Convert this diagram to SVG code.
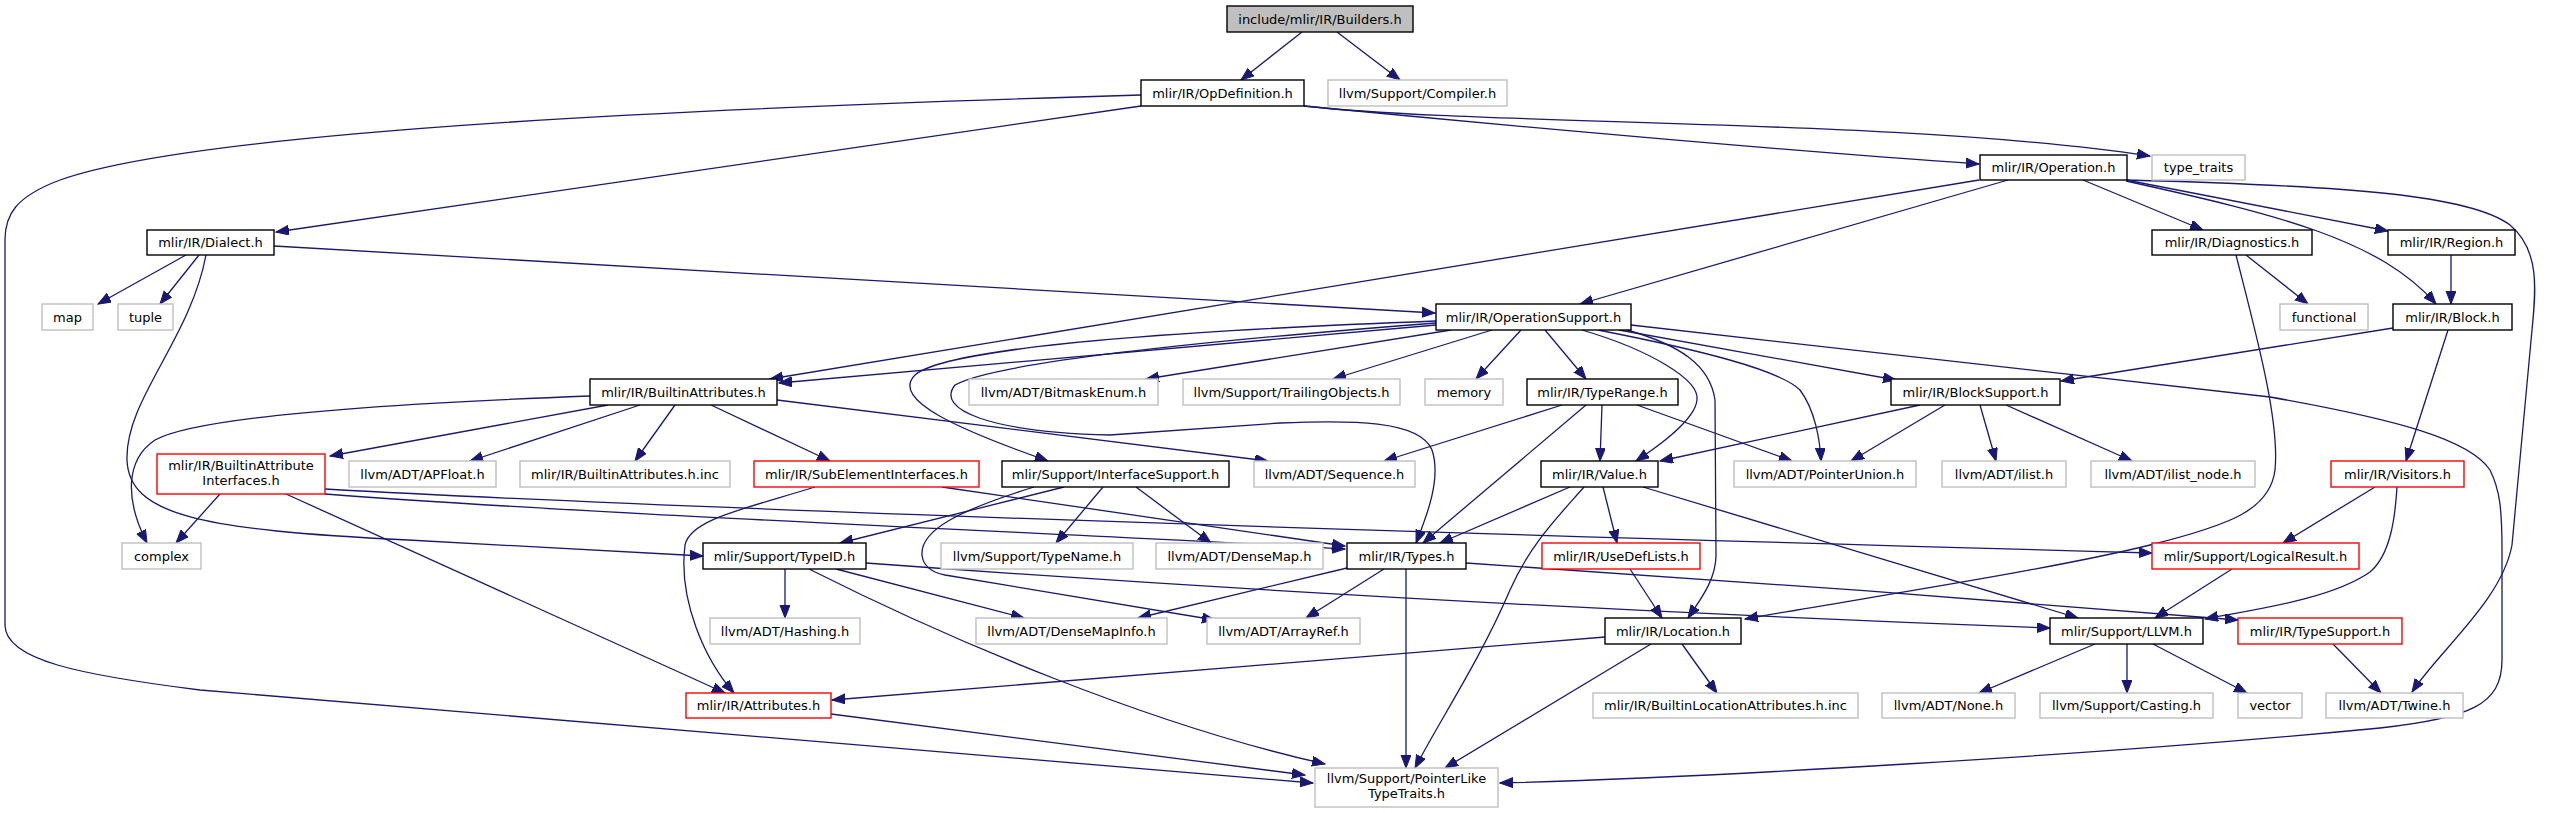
<svg xmlns="http://www.w3.org/2000/svg" width="2551" height="813" viewBox="0 0 2551 813">
<style>
rect{fill:#fff;stroke:#000;stroke-width:1.4}
.g rect{stroke:#bfbfbf}
.r rect{stroke:#ff0000}
text{font-family:"DejaVu Sans","Liberation Sans",sans-serif;font-size:13px;text-anchor:middle;fill:#000}
#edges path{fill:none;stroke:#191970;stroke-width:1.3;marker-end:url(#a)}
</style>
<defs>
<marker id="a" markerUnits="userSpaceOnUse" markerWidth="14" markerHeight="11" refX="13" refY="5" orient="auto">
<path d="M0,0 L13,5 L0,10 Z" fill="#191970" stroke="#191970" stroke-width="1"/>
</marker>
</defs>
<rect x="0" y="0" width="2551" height="813" style="fill:#fff;stroke:none"/>
<g id="edges">
<path d="M1302,32 L1241,80"/>
<path d="M1337,32 L1400,80"/>
<path d="M1304,106 C1500,125 1800,152 1979,164"/>
<path d="M1304,106 C1480,126 1900,118 2150,156"/>
<path d="M1141,106 L276,232"/>
<path d="M1141,95 C700,108 200,130 60,180 C15,197 5,215 5,240 L5,625 C5,660 80,675 200,690 L1313,783"/>
<path d="M2083,180 L2203,230"/>
<path d="M2126,180 L2388,231"/>
<path d="M2126,181 C2280,215 2380,240 2436,304"/>
<path d="M2127,180 C2350,186 2470,195 2510,225 C2540,250 2536,290 2532,330 L2512,545 C2502,600 2440,650 2412,692"/>
<path d="M2008,180 L1580,304"/>
<path d="M1979,180 L770,379"/>
<path d="M186,255 L98,304"/>
<path d="M199,255 L160,304"/>
<path d="M274,246 L1435,313"/>
<path d="M206,255 C190,340 125,400 127,460 C129,515 200,530 408,540 C500,545 600,550 703,556"/>
<path d="M2246,255 L2308,304"/>
<path d="M2236,255 C2255,330 2280,420 2275,470 C2270,510 2230,525 2150,545 C2050,570 1850,600 1745,619"/>
<path d="M2451,255 L2451,304"/>
<path d="M2393,328 L2061,381"/>
<path d="M2448,330 L2406,461"/>
<path d="M1436,325 L779,383"/>
<path d="M1451,330 L1146,379"/>
<path d="M1492,330 L1333,379"/>
<path d="M1521,330 L1476,379"/>
<path d="M1545,330 L1586,379"/>
<path d="M1582,330 C1650,350 1700,380 1697,400 C1695,420 1660,445 1636,461"/>
<path d="M1598,330 C1700,350 1780,370 1800,390 C1815,410 1820,440 1821,461"/>
<path d="M1619,330 L1896,380"/>
<path d="M1627,330 C1680,345 1710,365 1715,400 L1716,555 C1716,580 1700,600 1688,618"/>
<path d="M1631,325 L2270,397 C2400,420 2470,440 2490,470 C2500,490 2502,510 2502,550 L2502,660 C2502,705 2470,718 2380,728 C2100,755 1700,778 1500,783"/>
<path d="M1436,321 C1200,330 950,345 915,375 C890,400 960,430 1048,461"/>
<path d="M1436,323 C1150,345 990,365 955,385 C935,410 990,432 1110,435 L1280,423 C1350,420 1420,420 1432,450 C1442,480 1425,520 1416,543"/>
<path d="M608,405 L330,456"/>
<path d="M640,405 L470,461"/>
<path d="M675,405 L635,461"/>
<path d="M711,405 L830,461"/>
<path d="M777,400 L1268,461"/>
<path d="M590,396 C400,403 200,415 155,440 C125,460 125,500 147,543"/>
<path d="M220,494 L176,543"/>
<path d="M286,494 L725,693"/>
<path d="M325,494 C600,515 1100,535 1345,549"/>
<path d="M325,489 C700,510 1500,535 2152,553"/>
<path d="M815,487 C740,510 690,520 685,545 C678,600 705,660 734,693"/>
<path d="M942,487 L1345,546"/>
<path d="M1064,487 L840,543"/>
<path d="M1103,487 L1056,543"/>
<path d="M1136,487 L1211,543"/>
<path d="M1034,487 C960,510 920,530 922,555 C923,565 930,572 945,575 L1215,620"/>
<path d="M1562,405 L1384,461"/>
<path d="M1602,405 L1600,461"/>
<path d="M1637,405 L1792,461"/>
<path d="M1586,405 L1423,543"/>
<path d="M1920,405 L1660,461"/>
<path d="M1945,405 L1851,461"/>
<path d="M1980,405 L1996,461"/>
<path d="M2006,405 L2132,461"/>
<path d="M1570,487 L1440,543"/>
<path d="M1603,487 L1617,543"/>
<path d="M1643,487 L2078,618"/>
<path d="M1584,487 C1555,520 1530,545 1510,590 C1480,660 1440,720 1415,768"/>
<path d="M2375,487 L2283,543"/>
<path d="M2397,487 C2395,520 2390,555 2370,572 C2330,600 2250,610 2205,619"/>
<path d="M1605,637 L832,700"/>
<path d="M1682,644 L1717,693"/>
<path d="M1651,644 L1445,768"/>
<path d="M831,714 L1305,775"/>
<path d="M2232,569 L2155,618"/>
<path d="M2333,644 L2381,693"/>
<path d="M2095,644 L1979,693"/>
<path d="M2127,644 L2127,693"/>
<path d="M2153,644 L2247,693"/>
<path d="M1630,569 L1662,618"/>
<path d="M785,569 L785,618"/>
<path d="M836,569 L1024,618"/>
<path d="M809,569 C950,640 1150,725 1325,764"/>
<path d="M866,563 C1300,595 1700,615 2050,628"/>
<path d="M1347,568 L1138,618"/>
<path d="M1384,569 L1306,618"/>
<path d="M1406,569 L1406,768"/>
<path d="M1466,563 C1700,578 2000,600 2238,620"/>
</g>
<g id="builders"><rect x="1227" y="6" width="186" height="26" style="fill:#bfbfbf"/><text x="1320" y="23.5">include/mlir/IR/Builders.h</text></g>
<g id="opdefinition"><rect x="1141" y="80" width="163" height="26"/><text x="1222.5" y="97.5">mlir/IR/OpDefinition.h</text></g>
<g id="compiler" class="g"><rect x="1328" y="80" width="179" height="26"/><text x="1417.5" y="97.5">llvm/Support/Compiler.h</text></g>
<g id="operation"><rect x="1980" y="155" width="147" height="25"/><text x="2053.5" y="172">mlir/IR/Operation.h</text></g>
<g id="type_traits" class="g"><rect x="2152" y="155" width="93" height="25"/><text x="2198.5" y="172">type_traits</text></g>
<g id="dialect"><rect x="147" y="230" width="127" height="25"/><text x="210.5" y="247">mlir/IR/Dialect.h</text></g>
<g id="diagnostics"><rect x="2152" y="230" width="160" height="25"/><text x="2232" y="247">mlir/IR/Diagnostics.h</text></g>
<g id="region"><rect x="2388" y="230" width="127" height="25"/><text x="2451.5" y="247">mlir/IR/Region.h</text></g>
<g id="map" class="g"><rect x="42" y="304" width="51" height="26"/><text x="67.5" y="321.5">map</text></g>
<g id="tuple" class="g"><rect x="118" y="304" width="55" height="26"/><text x="145.5" y="321.5">tuple</text></g>
<g id="operationsupport"><rect x="1436" y="304" width="195" height="26"/><text x="1533.5" y="321.5">mlir/IR/OperationSupport.h</text></g>
<g id="functional" class="g"><rect x="2280" y="304" width="88" height="26"/><text x="2324" y="321.5">functional</text></g>
<g id="block"><rect x="2393" y="304" width="119" height="26"/><text x="2452.5" y="321.5">mlir/IR/Block.h</text></g>
<g id="builtinattributes"><rect x="590" y="379" width="187" height="26"/><text x="683.5" y="396.5">mlir/IR/BuiltinAttributes.h</text></g>
<g id="bitmaskenum" class="g"><rect x="969" y="379" width="189" height="26"/><text x="1063.5" y="396.5">llvm/ADT/BitmaskEnum.h</text></g>
<g id="trailingobjects" class="g"><rect x="1183" y="379" width="217" height="26"/><text x="1291.5" y="396.5">llvm/Support/TrailingObjects.h</text></g>
<g id="memory" class="g"><rect x="1425" y="379" width="78" height="26"/><text x="1464" y="396.5">memory</text></g>
<g id="typerange"><rect x="1527" y="379" width="151" height="26"/><text x="1602.5" y="396.5">mlir/IR/TypeRange.h</text></g>
<g id="blocksupport"><rect x="1891" y="379" width="169" height="26"/><text x="1975.5" y="396.5">mlir/IR/BlockSupport.h</text></g>
<g id="builtinattributeinterfaces" class="r"><rect x="157" y="454" width="168" height="40"/><text x="241" y="470">mlir/IR/BuiltinAttribute</text><text x="241" y="485">Interfaces.h</text></g>
<g id="apfloat" class="g"><rect x="349" y="461" width="147" height="26"/><text x="422.5" y="478.5">llvm/ADT/APFloat.h</text></g>
<g id="builtinattributesinc" class="g"><rect x="520" y="461" width="210" height="26"/><text x="625" y="478.5">mlir/IR/BuiltinAttributes.h.inc</text></g>
<g id="subelementinterfaces" class="r"><rect x="754" y="461" width="225" height="26"/><text x="866.5" y="478.5">mlir/IR/SubElementInterfaces.h</text></g>
<g id="interfacesupport"><rect x="1002" y="461" width="227" height="26"/><text x="1115.5" y="478.5">mlir/Support/InterfaceSupport.h</text></g>
<g id="sequence" class="g"><rect x="1254" y="461" width="161" height="26"/><text x="1334.5" y="478.5">llvm/ADT/Sequence.h</text></g>
<g id="value"><rect x="1541" y="461" width="117" height="26"/><text x="1599.5" y="478.5">mlir/IR/Value.h</text></g>
<g id="pointerunion" class="g"><rect x="1734" y="461" width="182" height="26"/><text x="1825" y="478.5">llvm/ADT/PointerUnion.h</text></g>
<g id="ilist" class="g"><rect x="1942" y="461" width="124" height="26"/><text x="2004" y="478.5">llvm/ADT/ilist.h</text></g>
<g id="ilist_node" class="g"><rect x="2091" y="461" width="164" height="26"/><text x="2173" y="478.5">llvm/ADT/ilist_node.h</text></g>
<g id="visitors" class="r"><rect x="2331" y="461" width="133" height="26"/><text x="2397.5" y="478.5">mlir/IR/Visitors.h</text></g>
<g id="complex" class="g"><rect x="122" y="543" width="79" height="26"/><text x="161.5" y="560.5">complex</text></g>
<g id="typeid"><rect x="703" y="543" width="163" height="26"/><text x="784.5" y="560.5">mlir/Support/TypeID.h</text></g>
<g id="typename" class="g"><rect x="941" y="543" width="192" height="26"/><text x="1037" y="560.5">llvm/Support/TypeName.h</text></g>
<g id="densemap" class="g"><rect x="1156" y="543" width="167" height="26"/><text x="1239.5" y="560.5">llvm/ADT/DenseMap.h</text></g>
<g id="types"><rect x="1347" y="543" width="119" height="26"/><text x="1406.5" y="560.5">mlir/IR/Types.h</text></g>
<g id="usedeflists" class="r"><rect x="1542" y="543" width="158" height="26"/><text x="1621" y="560.5">mlir/IR/UseDefLists.h</text></g>
<g id="logicalresult" class="r"><rect x="2152" y="543" width="207" height="26"/><text x="2255.5" y="560.5">mlir/Support/LogicalResult.h</text></g>
<g id="hashing" class="g"><rect x="710" y="618" width="150" height="26"/><text x="785" y="635.5">llvm/ADT/Hashing.h</text></g>
<g id="densemapinfo" class="g"><rect x="976" y="618" width="191" height="26"/><text x="1071.5" y="635.5">llvm/ADT/DenseMapInfo.h</text></g>
<g id="arrayref" class="g"><rect x="1207" y="618" width="153" height="26"/><text x="1283.5" y="635.5">llvm/ADT/ArrayRef.h</text></g>
<g id="location"><rect x="1605" y="618" width="136" height="26"/><text x="1673" y="635.5">mlir/IR/Location.h</text></g>
<g id="llvm"><rect x="2050" y="618" width="153" height="26"/><text x="2126.5" y="635.5">mlir/Support/LLVM.h</text></g>
<g id="typesupport" class="r"><rect x="2238" y="618" width="164" height="26"/><text x="2320" y="635.5">mlir/IR/TypeSupport.h</text></g>
<g id="attributes" class="r"><rect x="686" y="693" width="145" height="25"/><text x="758.5" y="710">mlir/IR/Attributes.h</text></g>
<g id="builtinlocationattributes" class="g"><rect x="1593" y="693" width="265" height="25"/><text x="1725.5" y="710">mlir/IR/BuiltinLocationAttributes.h.inc</text></g>
<g id="none" class="g"><rect x="1882" y="693" width="133" height="25"/><text x="1948.5" y="710">llvm/ADT/None.h</text></g>
<g id="casting" class="g"><rect x="2040" y="693" width="173" height="25"/><text x="2126.5" y="710">llvm/Support/Casting.h</text></g>
<g id="vector" class="g"><rect x="2238" y="693" width="64" height="25"/><text x="2270" y="710">vector</text></g>
<g id="twine" class="g"><rect x="2326" y="693" width="137" height="25"/><text x="2394.5" y="710">llvm/ADT/Twine.h</text></g>
<g id="pointerliketypetraits" class="g"><rect x="1315" y="768" width="183" height="39"/><text x="1406.5" y="783">llvm/Support/PointerLike</text><text x="1406.5" y="798">TypeTraits.h</text></g>
</svg>
